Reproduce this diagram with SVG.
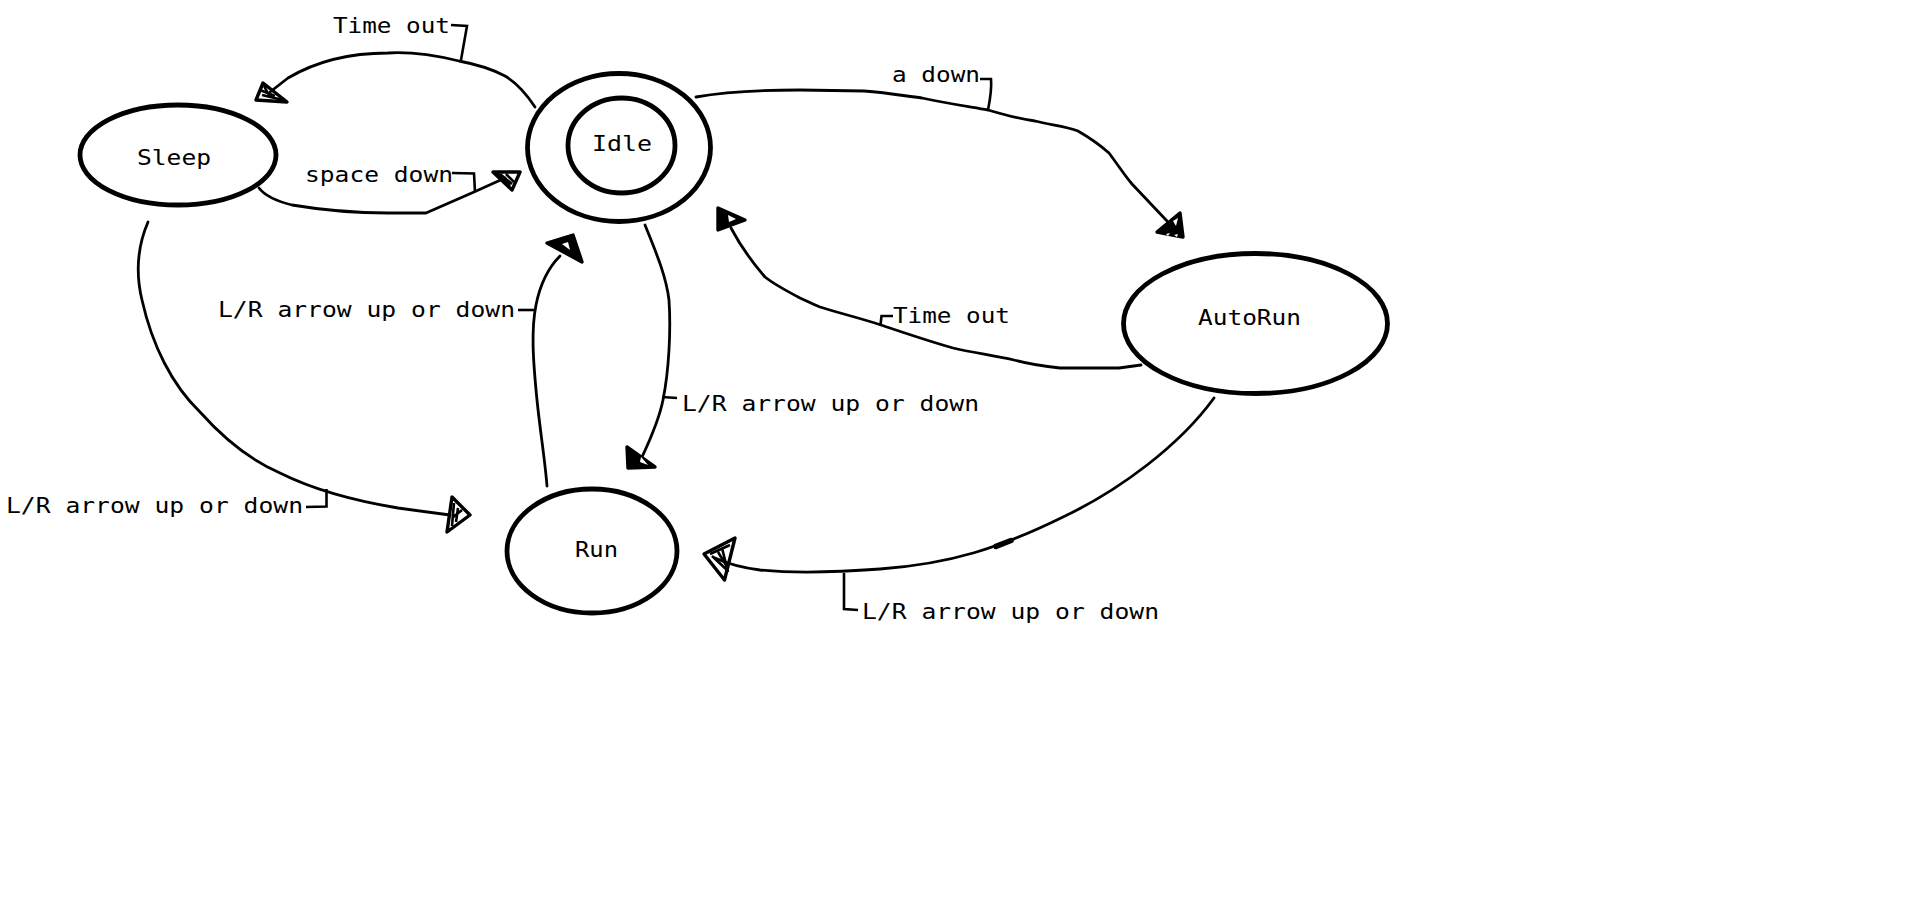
<svg xmlns="http://www.w3.org/2000/svg" width="1914" height="920" viewBox="0 0 1914 920">
<style>
.node{fill:none;stroke:#000;stroke-width:4.8}
.edge{fill:none;stroke:#000;stroke-width:2.8;stroke-linejoin:round;stroke-linecap:round}
.lead{fill:none;stroke:#000;stroke-width:2.6;stroke-linejoin:miter}
.head{fill:none;stroke:#000;stroke-width:3.4;stroke-linejoin:round}
.hatch{fill:none;stroke:#000;stroke-width:2.6}
text{font-family:"DejaVu Sans Mono","Liberation Mono",monospace;font-size:22px;fill:#000}
</style>
<rect width="1914" height="920" fill="#fff"/>
<g id="sleep">
<ellipse class="node" cx="178" cy="155" rx="98" ry="50"/>
<text x="137" y="165" textLength="74" lengthAdjust="spacingAndGlyphs">Sleep</text>
</g>
<g id="idle">
<ellipse class="node" cx="619" cy="147.5" rx="91.5" ry="74"/>
<ellipse class="node" cx="621.5" cy="145.5" rx="53.5" ry="47.5"/>
<text x="592" y="151" textLength="60" lengthAdjust="spacingAndGlyphs">Idle</text>
</g>
<g id="autorun">
<ellipse class="node" cx="1255.5" cy="323.5" rx="132" ry="70"/>
<text x="1198" y="325" textLength="103" lengthAdjust="spacingAndGlyphs">AutoRun</text>
</g>
<g id="run">
<ellipse class="node" cx="592" cy="551" rx="85" ry="62"/>
<text x="575" y="557" textLength="43" lengthAdjust="spacingAndGlyphs">Run</text>
</g>
<g id="connectors">
<g id="idle-sleep">
<path class="edge" d="M535,107 C525,92 515,82 505,76 C490,68 475,64 459,61 C430,54 405,52 388,53 C350,53 315,62 288,78 L270,92"/>
<polygon class="head" points="256,100 263,83 287,102"/>
<path class="hatch" d="M262,95 L283,100 M260,90 L275,96 M264,86 L270,97"/>
<path class="lead" d="M451,25 L467,26 L461,60"/>
<text x="333" y="33" textLength="117" lengthAdjust="spacingAndGlyphs">Time out</text>
</g>
<g id="sleep-idle">
<path class="edge" d="M259,188 C265,196 276,201 292,205 C322,210 360,213 388,213 L426,213 L474,192 L505,178"/>
<polygon class="head" points="520,172 493,172 512,190"/>
<path class="hatch" d="M500,174 L512,184 M506,174 L514,182 M497,173 L510,186"/>
<path class="lead" d="M452,173 L474,173.5 L475,192"/>
<text x="305" y="182" textLength="148" lengthAdjust="spacingAndGlyphs">space down</text>
</g>
<g id="sleep-run">
<path class="edge" d="M148,222 C136,250 136,275 142,300 C152,345 172,385 200,412 C225,440 250,460 280,473 C310,488 350,500 398,508 L450,515"/>
<polygon class="head" points="470,515 452,497 447,532"/>
<path class="hatch" d="M454,503 L452,526 M458,508 L456,522 M462,510 L452,518"/>
<path class="lead" d="M306,507 L326.5,506.5 L326.5,489"/>
<text x="6" y="513" textLength="297" lengthAdjust="spacingAndGlyphs">L/R arrow up or down</text>
</g>
<g id="run-idle">
<path class="edge" d="M547,486 C545,460 540,430 537,400 C533,360 531,330 536,305 C540,285 548,268 560,256"/>
<polygon class="head" points="573,235 547,243 582,262" style="fill:#000"/>
<path d="M562,244 L570,250 L568,242 Z" fill="#fff"/>
<path class="lead" d="M518,310 L535,310"/>
<text x="218" y="317" textLength="297" lengthAdjust="spacingAndGlyphs">L/R arrow up or down</text>
</g>
<g id="idle-run">
<path class="edge" d="M645,225 C655,250 666,275 669,300 C671,330 669,370 663,400 C659,420 650,440 642,457"/>
<polygon class="head" points="628,468 627,447 655,467" style="fill:#000"/>
<path d="M640,462 L648,465 L641,457 Z" fill="#fff"/>
<path class="lead" d="M662,397 L677,398"/>
<text x="682" y="411" textLength="297" lengthAdjust="spacingAndGlyphs">L/R arrow up or down</text>
</g>
<g id="idle-autorun">
<path class="edge" d="M696,97 C730,91 770,90 800,90 L864,91 C890,93 905,96 922,98 C945,103 965,106 988,110 C1005,115 1020,119 1035,121 C1050,125 1065,126 1078,131 C1090,138 1100,145 1109,153 C1118,165 1125,176 1132,184 L1167,221"/>
<polygon class="head" points="1183,237 1180,213 1157,232" style="fill:#000"/>
<path d="M1173,221 L1178,218 L1176,226 Z M1166,234 L1170,233 L1168,236 Z M1174,235 L1178,234 L1177,237 Z" fill="#fff"/>
<path class="lead" d="M980,79 L991,79 C992,90 990,100 988,110"/>
<text x="892" y="82" textLength="88" lengthAdjust="spacingAndGlyphs">a down</text>
</g>
<g id="autorun-idle">
<path class="edge" d="M1141,365 L1119,368 L1060,368 C1040,366 1025,363 1014,360 C990,355 970,352 953,348 C925,340 905,333 881,325 C860,318 835,312 820,307 C810,303 805,300 800,298 C785,290 775,285 765,277 C752,262 740,245 731,228"/>
<polygon class="head" points="718,208 745,220 718,230" style="fill:#000"/>
<path d="M728,215 L736,219 L729,222 Z" fill="#fff"/>
<path class="lead" d="M893,316 L881.5,316 L880.5,325"/>
<text x="893" y="323" textLength="117" lengthAdjust="spacingAndGlyphs">Time out</text>
</g>
<g id="autorun-run">
<path class="edge" d="M1214,398 C1180,445 1120,490 1063,517 C1000,548 950,564 880,569 C840,572 800,574 760,570 C745,568 730,565 715,558"/>
<path class="edge" d="M996,546.4 L1011,540.5" style="stroke-width:5.5"/>
<polygon class="head" points="704,554 735,538 724.5,580"/>
<path class="hatch" d="M710,554 L730,545 M712,556 L727,570 M718,552 L726,565 M722,548 L728,572"/>
<path class="lead" d="M844,573 L844,609 L858,610"/>
<text x="862" y="619" textLength="297" lengthAdjust="spacingAndGlyphs">L/R arrow up or down</text>
</g>
</g>
</svg>
